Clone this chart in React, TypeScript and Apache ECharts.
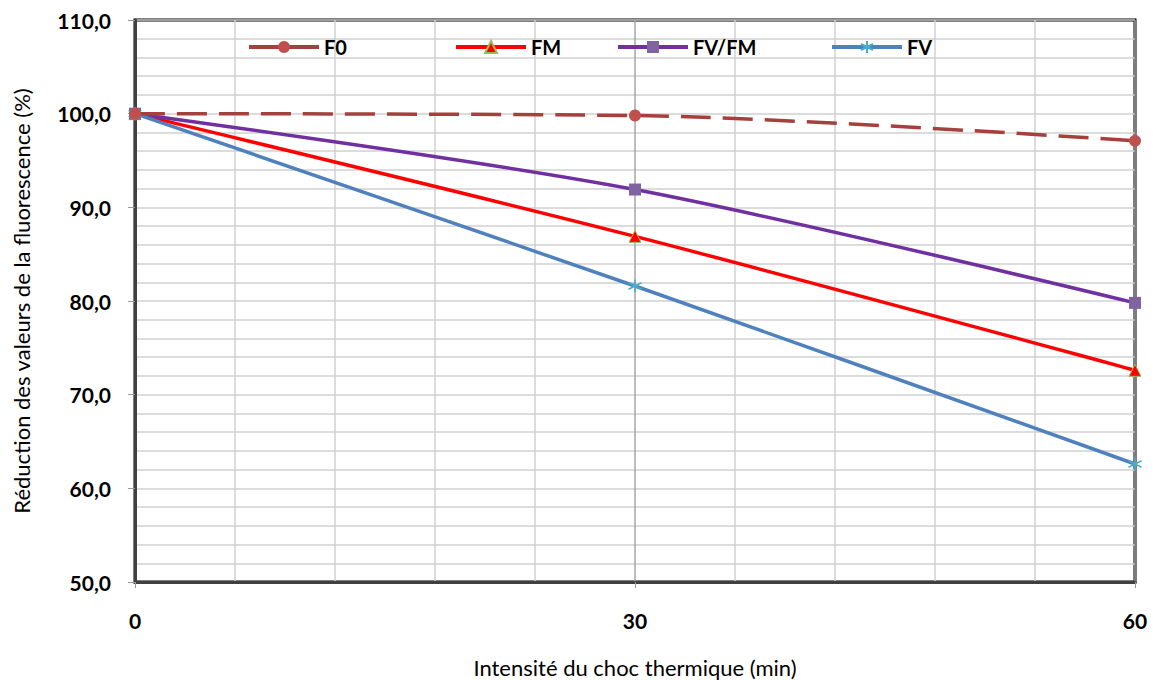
import React, { useEffect, useRef } from "react";
import * as echarts from "echarts";

const xValues = [0, 30, 60];
const seriesNames = ["F0", "FM", "FV/FM", "FV"];
const f0 = [100.0, 99.8, 97.1];
const fm = [100.0, 86.9, 72.6];
const fvfm = [100.0, 91.9, 79.8];
const fv = [100.0, 81.6, 62.6];
const yTitle = "Réduction des valeurs de la fluorescence (%)";
const xTitle = "Intensité du choc thermique (min)";

const legendLefts = [247, 454, 616, 830];

const asterisk = "path://M0,-10L0,10M-8.66,-5L8.66,5M-8.66,5L8.66,-5";

export default function App() {
  const ref = useRef<HTMLDivElement>(null);
  useEffect(() => {
    if (!ref.current) return;
    const chart = echarts.init(ref.current, null, { renderer: "svg" });
    const pair = (arr: number[]) => xValues.map((x, i) => [x, arr[i]]);
    const fontBold = { fontFamily: "Lato", fontWeight: "bold" as const, fontSize: 20, color: "#000" };
    const series: any[] = [
      {
        name: seriesNames[0],
        type: "line",
        data: pair(f0),
        smooth: 0.3,
        symbol: "circle",
        symbolSize: 12,
        lineStyle: { color: "#A5403D", width: 3.5, type: [30, 12] },
        itemStyle: { color: "#C0504D" },
        z: 4,
      },
      {
        name: seriesNames[1],
        type: "line",
        data: pair(fm),
        smooth: 0.3,
        symbol: "triangle",
        symbolSize: 12,
        lineStyle: { color: "#FF0000", width: 3.5 },
        itemStyle: { color: "#FF0000", borderColor: "#9BBB59", borderWidth: 1 },
        z: 3,
      },
      {
        name: seriesNames[2],
        type: "line",
        data: pair(fvfm),
        smooth: 0.3,
        symbol: "rect",
        symbolSize: 12,
        lineStyle: { color: "#7030A0", width: 3.5 },
        itemStyle: { color: "#8064A2" },
        z: 3,
      },
      {
        name: seriesNames[3],
        type: "line",
        data: pair(fv),
        smooth: 0.3,
        symbol: asterisk,
        symbolSize: 13,
        lineStyle: { color: "#4F81BD", width: 3.5 },
        itemStyle: { color: "#4BACC6", borderColor: "#4BACC6", borderWidth: 1.5 },
        z: 3,
      },
    ];
    const legends = seriesNames.map((n, i) => ({
      data: [n],
      left: legendLefts[i],
      top: 37,
      padding: 0,
      orient: "horizontal",
      itemWidth: 70,
      itemHeight: 15,
      itemGap: 6,
      textStyle: { ...fontBold, padding: [0, 0, 0, 0] },
      lineStyle: { type: "solid", width: 4 },
      selectedMode: false,
    }));
    chart.setOption({
      animation: false,
      backgroundColor: "#fff",
      legend: legends,
      grid: {
        left: 135,
        right: 20,
        top: 20,
        bottom: 98,
        containLabel: false,
        outerBoundsMode: "none",
        show: true,
        borderColor: "#000",
        borderWidth: 3,
        backgroundColor: "transparent",
      },
      xAxis: {
        type: "value",
        min: 0,
        max: 60,
        interval: 30,
        axisLine: { show: true, lineStyle: { color: "#404040", width: 3 } },
        axisTick: { show: true, length: 6, lineStyle: { color: "#999" } },
        axisLabel: { ...fontBold, fontSize: 21, margin: 28 },
        splitLine: { show: true, lineStyle: { color: "#a6a6a6", width: 1.5 } },
        minorTick: { show: false, splitNumber: 5 },
        minorSplitLine: { show: true, lineStyle: { color: "#d0d0d0", width: 1.5 } },
        name: xTitle,
        nameLocation: "middle",
        nameGap: 74,
        nameTextStyle: { fontFamily: "Lato", fontSize: 22, color: "#000" },
      },
      yAxis: {
        type: "value",
        min: 50,
        max: 110,
        interval: 10,
        axisLine: { show: true, lineStyle: { color: "#404040", width: 3 } },
        axisTick: { show: true, length: 7, lineStyle: { color: "#999" } },
        axisLabel: {
          ...fontBold,
          fontSize: 21,
          margin: 24,
          formatter: (v: number) => v.toFixed(1).replace(".", ","),
        },
        splitLine: { show: true, lineStyle: { color: "#d0d0d0", width: 1.5 } },
        minorTick: { show: false, splitNumber: 5 },
        minorSplitLine: { show: true, lineStyle: { color: "#d0d0d0", width: 1.5 } },
        name: yTitle,
        nameLocation: "middle",
        nameRotate: 90,
        nameGap: 103,
        nameTextStyle: { fontFamily: "Lato", fontSize: 22, color: "#000" },
      },
      series,
    });
    return () => chart.dispose();
  }, []);
  return (
    <div
      ref={ref}
      style={{ position: "fixed", left: 0, top: 0, width: 1155, height: 680 }}
    />
  );
}
